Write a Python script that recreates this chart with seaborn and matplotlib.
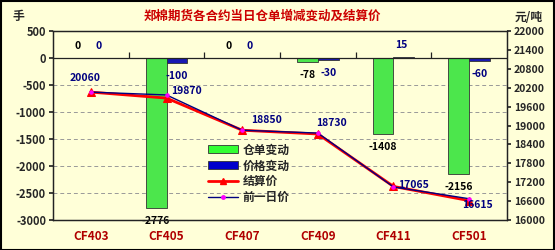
import numpy as np
import pandas as pd
import matplotlib
matplotlib.use("Agg")
import matplotlib.pyplot as plt
import seaborn as sns
from matplotlib.lines import Line2D
from matplotlib.patches import Patch, Rectangle

sns.set_theme(style="white")
plt.rcParams['font.family'] = ['Noto Sans CJK SC', 'DejaVu Sans']
plt.rcParams['axes.unicode_minus'] = False

categories = ["CF403", "CF405", "CF407", "CF409", "CF411", "CF501"]
warrant_change = [0, -2776, 0, -78, -1408, -2156]
price_change = [0, -100, 0, -30, 15, -60]
settle_price = [20060, 19870, 18850, 18730, 17065, 16615]
prev_price = [20060, 19970, 18850, 18760, 17050, 16675]
series_names = ["仓单变动", "价格变动", "结算价", "前一日价"]
title = "郑棉期货各合约当日仓单增减变动及结算价"
left_unit = "手"
right_unit = "元/吨"

BG = "#FFFFD8"
GREEN = "#33FF33"
BLUE = "#0000CC"
RED = "#FF0000"
NAVY = "#000080"

df = pd.DataFrame({
    "合约": categories * 2,
    "值": warrant_change + price_change,
    "系列": [series_names[0]] * len(categories) + [series_names[1]] * len(categories),
})

fig = plt.figure(figsize=(5.55, 2.5), dpi=100, facecolor=BG)
ax = fig.add_axes([0.0955, 0.12, 0.818, 0.756])
ax.set_facecolor(BG)

sns.barplot(data=df, x="合约", y="值", hue="系列", order=categories,
            hue_order=series_names[:2], palette=[GREEN, BLUE], width=0.55,
            edgecolor="#333333", linewidth=0.6, legend=False, ax=ax, zorder=3)

ax.set_ylim(-3000, 500)
ax.set_xlim(-0.5, len(categories) - 0.5)
ax.set_yticks(np.arange(-3000, 501, 500))
ax.set_yticklabels([str(v) for v in np.arange(-3000, 501, 500)],
                   fontsize=8, fontweight="bold")
for y in np.arange(-2500, 0, 500):
    ax.axhline(y, color="#999999", lw=0.7, ls=(0, (4, 3)), zorder=1)
ax.axhline(0, color="#222222", lw=0.9, zorder=4)
ax.vlines(np.arange(len(categories) - 1) + 0.5, 0, 110, color="#222222", lw=0.9, zorder=4)
ax.set_xlabel("")
ax.set_ylabel("")
ax.set_xticks(range(len(categories)))
ax.set_xticklabels(categories, fontsize=8.5, fontweight="bold", color="#B00000")
ax.tick_params(axis="x", length=0, pad=7)
ax.tick_params(axis="y", length=3, pad=2, left=True)
for s in ax.spines.values():
    s.set_color("#222222")
    s.set_linewidth(0.9)

# bar labels
pos = np.arange(len(categories))
bw = 0.55 / 2
for i, (g, b) in enumerate(zip(warrant_change, price_change)):
    for val, xoff, col in ((g, -bw / 2, "black"), (b, bw / 2, NAVY)):
        if val >= 0:
            ax.annotate(str(val), (pos[i] + xoff, max(val, 0)), xytext=(-3, 12),
                        textcoords="offset pixels", ha="center", va="center",
                        fontsize=7.5, fontweight="bold", color=col, zorder=6)
        else:
            ax.annotate(str(val), (pos[i] + xoff, val), xytext=(0, -13),
                        textcoords="offset pixels", ha="center", va="center",
                        fontsize=7.5, fontweight="bold", color=col, zorder=6)

ax2 = ax.twinx()
sns.lineplot(x=pos, y=settle_price, color=RED, lw=2, marker="^", markersize=6,
             markeredgecolor=RED, ax=ax2, zorder=5)
sns.lineplot(x=pos, y=prev_price, color=NAVY, lw=1, marker="o", markersize=2.5,
             markerfacecolor="#FF00FF", markeredgecolor="#FF00FF", ax=ax2, zorder=6)
ax2.set_ylim(16000, 22000)
ax2.set_yticks(np.arange(16000, 22001, 600))
ax2.set_yticklabels([str(v) for v in np.arange(16000, 22001, 600)],
                    fontsize=7.5, fontweight="bold")
ax2.tick_params(axis="y", length=3, pad=2, right=True)
ax2.set_xlim(-0.5, len(categories) - 0.5)
for s in ax2.spines.values():
    s.set_color("#222222")
    s.set_linewidth(0.9)

offsets = [(-6, 14), (20, 7), (24, 10), (14, 11), (20, 1), (8, -4)]
for i, (v, off) in enumerate(zip(settle_price, offsets)):
    ax2.annotate(str(v), (pos[i], v), xytext=off, textcoords="offset pixels",
                 ha="center", va="center", fontsize=7.5, fontweight="bold",
                 color=NAVY, zorder=7)

handles = [Patch(facecolor=GREEN, edgecolor="#333333", lw=0.6),
           Patch(facecolor=BLUE, edgecolor="#333333", lw=0.6),
           Line2D([], [], color=RED, lw=2, marker="^", markersize=5),
           Line2D([], [], color=NAVY, lw=1, marker="o", markersize=2.5,
                  markerfacecolor="#FF00FF", markeredgecolor="#FF00FF")]
leg = ax2.legend(handles, series_names, loc="upper left", bbox_to_anchor=(0.33, 0.43),
                 frameon=False, fontsize=8.5, handlelength=2.6, handletextpad=0.4,
                 labelspacing=0.25, borderaxespad=0)
for t in leg.get_texts():
    t.set_fontweight("bold")

fig.text(0.473, 0.935, title, ha="center", va="center", fontsize=9,
         fontweight="bold", color="#CC0000")
fig.text(0.022, 0.935, left_unit, ha="left", va="center", fontsize=8.5, fontweight="bold")
fig.text(0.978, 0.93, right_unit, ha="right", va="center", fontsize=8.5, fontweight="bold")

fig.patches.append(Rectangle((0.001, 0.002), 0.997, 0.995, transform=fig.transFigure,
                             fill=False, edgecolor="black", lw=1.5))

fig.savefig("out.png", dpi=100, facecolor=BG)
